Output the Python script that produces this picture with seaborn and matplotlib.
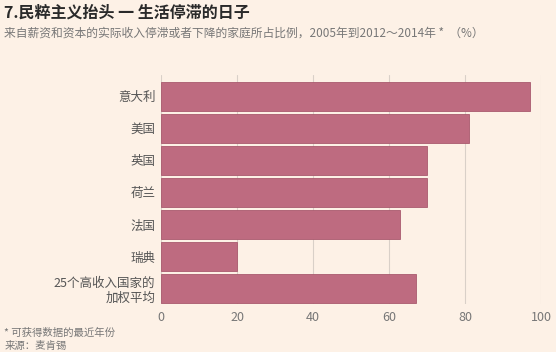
import matplotlib
matplotlib.use('Agg')
import matplotlib.pyplot as plt
import seaborn as sns
import pandas as pd

# 数据
countries = ['意大利', '美国', '英国', '荷兰', '法国', '瑞典', '25个高收入国家的\n加权平均']
shares = [97, 81, 70, 70, 63, 20, 67]
xticks = [0, 20, 40, 60, 80, 100]

df = pd.DataFrame({'国家': countries, '比例': shares})

bg = '#FDF1E6'
bar_color = '#BE6B80'

sns.set_style('white')
plt.rcParams['font.family'] = ['Noto Sans CJK SC', 'DejaVu Sans']

fig = plt.figure(figsize=(5.56, 3.52), dpi=100, facecolor=bg)
ax = fig.add_axes([161 / 556, 1 - 304 / 352, 380 / 556, 229 / 352])
ax.set_facecolor(bg)

sns.barplot(data=df, x='比例', y='国家', orient='h', color=bar_color,
            width=0.9, saturation=1, edgecolor='#A95A6E', linewidth=0.6,
            zorder=3, ax=ax)

ax.set_xlim(0, 100)
ax.set_ylim(6.48, -0.66)
ax.set_xticks(xticks)
ax.grid(axis='x', color='#D9D0C8', linewidth=0.8, zorder=0)
ax.grid(axis='y', visible=False)
for s in ax.spines.values():
    s.set_visible(False)
ax.set_xlabel('')
ax.set_ylabel('')
ax.tick_params(axis='y', length=0, pad=4, labelsize=9, labelcolor='#555555')
ax.tick_params(axis='x', length=0, pad=5, labelsize=9, labelcolor='#777777')
for lab in ax.get_yticklabels():
    lab.set_multialignment('right')

# 标题与注释
fig.text(0.008, 1 - 13 / 352, '7.民粹主义抬头 一 生活停滞的日子', fontsize=11.5,
         fontweight='bold', color='#2A2A2A', va='center', ha='left')
fig.text(0.008, 1 - 33 / 352,
         '来自薪资和资本的实际收入停滞或者下降的家庭所占比例，2005年到2012～2014年 *  （%）',
         fontsize=8.5, color='#777777', va='center', ha='left')
fig.text(0.008, 1 - 333 / 352, '* 可获得数据的最近年份', fontsize=7.5,
         color='#777777', va='center', ha='left')
fig.text(0.008, 1 - 346 / 352, '来源：麦肯锡', fontsize=7.5,
         color='#777777', va='center', ha='left')

fig.savefig('out.png', dpi=100, facecolor=bg)
